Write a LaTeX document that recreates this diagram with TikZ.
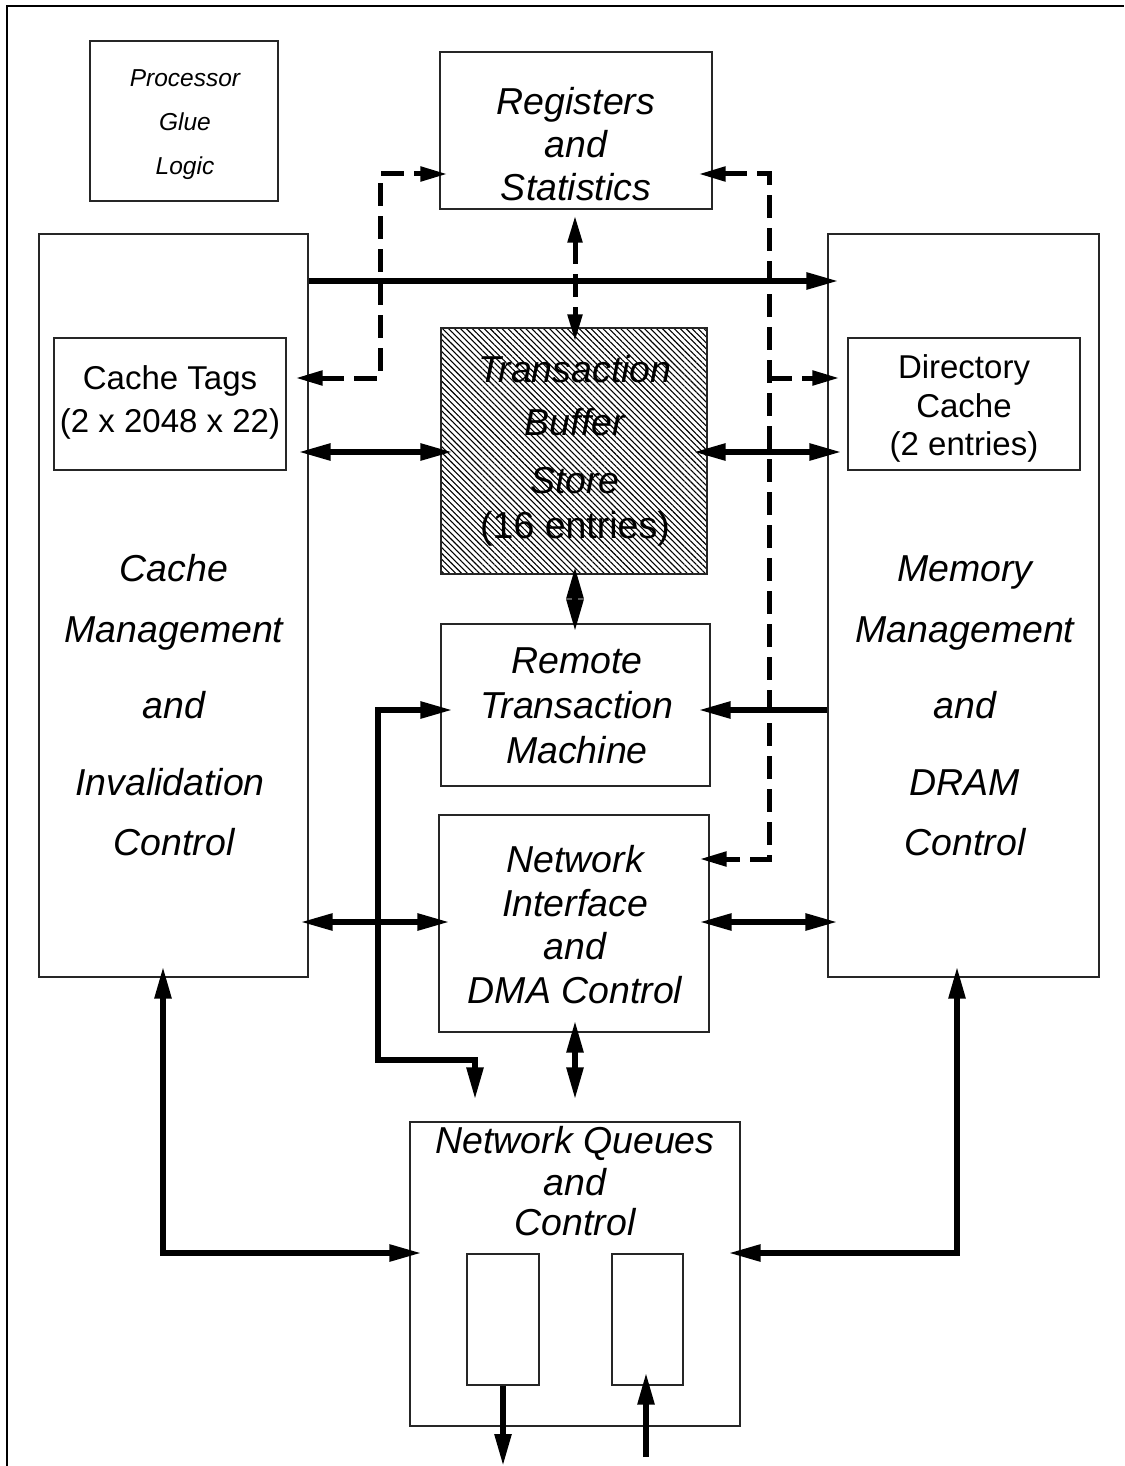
\documentclass[tikz,border=0pt]{standalone}
\usepackage{fontspec}
\setmainfont{Liberation Sans}
\usetikzlibrary{arrows.meta,patterns.meta}
\begin{document}
\begin{tikzpicture}[x=1pt,y=-1pt,
  box/.style={draw=black!85,line width=1.1pt,inner sep=0pt,fill=white},
  big/.style={font=\fontsize{37.5}{41}\selectfont\itshape,text height=26.8pt,text depth=0pt,inner sep=0pt},
  mid/.style={font=\fontsize{33}{37}\selectfont,text height=23.6pt,text depth=0pt,inner sep=0pt},
  sml/.style={font=\fontsize{24.5}{28}\selectfont\itshape,text height=17.5pt,text depth=0pt,inner sep=0pt},
  conn/.style={line width=5.5pt,>={Triangle[length=32pt,width=16pt]}},
  dconn/.style={line width=5pt,dash pattern=on 23pt off 10pt,>={Triangle[length=27pt,width=14pt]}}
]
\useasboundingbox (0,0) rectangle (1124,1466);
\draw[line width=2pt] (7,1466) -- (7,6) -- (1124,6);

% boxes
\node[box,minimum width=188pt,minimum height=160pt] (pgl) at (184,121) {};
\node[box,minimum width=272pt,minimum height=157pt] (reg) at (576,130.5) {};
\node[box,minimum width=269pt,minimum height=743pt] (cm) at (173.5,605.5) {};
\node[box,minimum width=271pt,minimum height=743pt] (mm) at (963.5,605.5) {};
\node[box,minimum width=232pt,minimum height=132pt] (ct) at (170,404) {};
\node[box,minimum width=232pt,minimum height=132pt] (dc) at (964,404) {};
\node[box,minimum width=266pt,minimum height=246pt,pattern={Lines[angle=-45,distance=4.2pt,line width=1.1pt]}] (tb) at (574,451) {};
\node[box,minimum width=269pt,minimum height=162pt] (rtm) at (575.5,705) {};
\node[box,minimum width=270pt,minimum height=217pt] (ni) at (574,923.5) {};
\node[box,minimum width=330pt,minimum height=304pt] (nq) at (575,1274) {};
\node[box,minimum width=72pt,minimum height=131pt] (q1) at (503,1319.5) {};
\node[box,minimum width=71pt,minimum height=131pt] (q2) at (647.5,1319.5) {};

% helper coordinates
\coordinate (h281) at (0,281);
\coordinate (c1) at (380,378);
\coordinate (c2) at (380,174);
\coordinate (c3) at (769,174);
\coordinate (c4) at (769,859);
\coordinate (c5) at (769,378);
\coordinate (h452) at (0,452);
\coordinate (h710) at (0,710);
\coordinate (c6) at (378,710);
\coordinate (c7) at (378,1060);
\coordinate (c8) at (475,1060);
\coordinate (h922) at (0,922);
\coordinate (c9) at (163,1253);
\coordinate (c10) at (957,1253);
\coordinate (v575) at (575,0);
\coordinate (out1) at (503,1466);
\coordinate (in2) at (646,1457);

% solid connectors
\draw[conn,->,shorten >=-11pt] (cm.east |- h281) -- (mm.west |- h281);
\draw[conn,<->,shorten <=12pt,shorten >=-12pt] (ct.east |- h452) -- (tb.west |- h452);
\draw[conn,<->,shorten <=-14pt,shorten >=6pt] (tb.east |- h452) -- (dc.west |- h452);
\draw[conn,<->,shorten <=-8pt,shorten >=-8pt] (tb.south -| v575) -- (rtm.north -| v575);
\draw[conn,->,shorten >=-12pt] (mm.west |- h710) -- (rtm.east |- h710);
\draw[conn,<->,shorten <=22pt,shorten >=-12pt] (c8 |- nq.north) -- (c8) -- (c7) -- (c6) -- (rtm.west |- c6);
\draw[conn,<->,shorten <=-8pt,shorten >=-11pt] (cm.east |- h922) -- (ni.west |- h922);
\draw[conn,<->,shorten <=-10pt,shorten >=-10pt] (ni.east |- h922) -- (mm.west |- h922);
\draw[conn,<->,shorten <=-12pt,shorten >=22pt] (ni.south -| v575) -- (nq.north -| v575);
\draw[conn,<->,shorten <=-11pt,shorten >=-12pt] (cm.south -| c9) -- (c9) -- (nq.west |- c9);
\draw[conn,<->,shorten <=-11pt,shorten >=-12pt] (mm.south -| c10) -- (c10) -- (nq.east |- c10);
\draw[conn,->] (q1.south) -- (out1);
\draw[conn,->,shorten >=-13pt] (in2) -- (q2.south -| in2);

% dashed connectors
\draw[dconn,<->,shorten <=9pt,shorten >=-8pt] (ct.east |- c1) -- (c1) -- (c2) -- (reg.west |- c2);
\draw[dconn,<->,shorten <=-14pt,shorten >=-10pt] (reg.east |- c3) -- (c3) -- (c4) -- (ni.east |- c4);
\draw[dconn,->,shorten >=8pt] (c5) -- (dc.west |- c5);
\draw[dconn,<->,shorten <=6pt,shorten >=-14pt] (reg.south -| v575) -- (tb.north -| v575);

% texts
\node[sml] (t1) at (185,78) {Processor};
\node[sml] (t2) at (185,122) {Glue};
\node[sml] (t3) at (185,166) {Logic};

\node[big] (t4) at (576,101) {Registers};
\node[big] (t5) at (576,144) {and};
\node[big] (t6) at (576,187) {Statistics};

\node[mid] (t7) at (170,378) {Cache Tags};
\node[mid] (t8) at (170,421) {(2 x 2048 x 22)};

\node[mid] (t9) at (964,367) {Directory};
\node[mid] (t10) at (964,406) {Cache};
\node[mid] (t11) at (964,444) {(2 entries)};

\node[big] (t12) at (575,369) {Transaction};
\node[big] (t13) at (575,422) {Buffer};
\node[big] (t14) at (575,480) {Store};
\node[big,font=\fontsize{37.5}{41}\selectfont] (t15) at (575,525) {(16 entries)};

\node[big] (t16) at (174,568) {Cache};
\node[big] (t17) at (174,629) {Management};
\node[big] (t18) at (174,705) {and};
\node[big] (t19) at (170,782) {Invalidation};
\node[big] (t20) at (174,842) {Control};

\node[big] (t21) at (577,660) {Remote};
\node[big] (t22) at (577,705) {Transaction};
\node[big] (t23) at (577,750) {Machine};

\node[big] (t24) at (575,859) {Network};
\node[big] (t25) at (575,903) {Interface};
\node[big] (t26) at (575,946) {and};
\node[big] (t27) at (575,990) {DMA Control};

\node[big] (t28) at (965,568) {Memory};
\node[big] (t29) at (965,629) {Management};
\node[big] (t30) at (965,705) {and};
\node[big] (t31) at (965,782) {DRAM};
\node[big] (t32) at (965,842) {Control};

\node[big] (t33) at (575,1140) {Network Queues};
\node[big] (t34) at (575,1182) {and};
\node[big] (t35) at (575,1222) {Control};
\end{tikzpicture}
\end{document}
